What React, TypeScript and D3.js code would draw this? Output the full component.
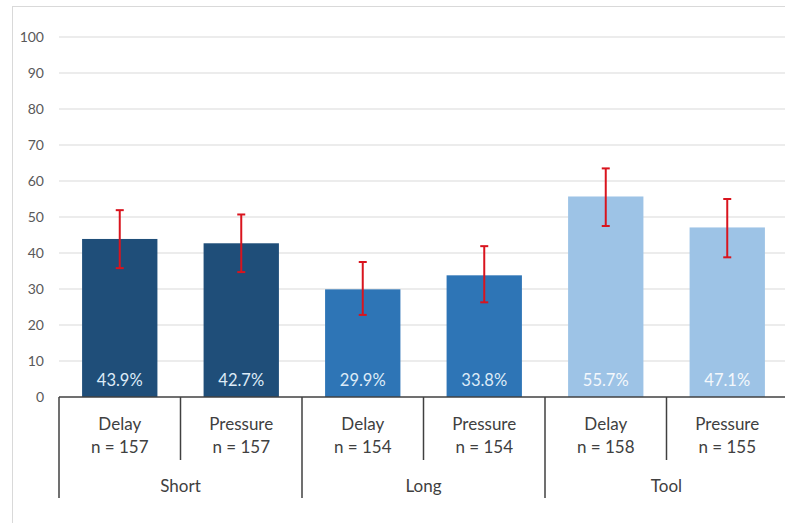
import React from "react";
import * as d3 from "d3";

const groups = ["Short", "Long", "Tool"];
const conditions = ["Delay", "Pressure", "Delay", "Pressure", "Delay", "Pressure"];
const sampleSizes = [157, 157, 154, 154, 158, 155];
const values = [43.9, 42.7, 29.9, 33.8, 55.7, 47.1];
const errLow = [35.8, 34.7, 22.8, 26.3, 47.5, 38.8];
const errHigh = [51.9, 50.7, 37.5, 41.9, 63.5, 55.0];
const barGroup = [0, 0, 1, 1, 2, 2];
const yTicks = [0, 10, 20, 30, 40, 50, 60, 70, 80, 90, 100];
const groupColors = ["#1F4E79", "#2E75B6", "#9DC3E6"];
const labelColors = ["#DDEBF7", "#DDEBF7", "#F4F8FC"];

export default function App() {
  const W = 785;
  const H = 523;
  const left = 59;
  const right = 788;
  const top = 37;
  const bottom = 397;
  const font = "Lato, 'Open Sans', sans-serif";

  const x = d3
    .scaleBand<number>()
    .domain(values.map((_, i) => i))
    .range([left, right])
    .paddingInner(0.38)
    .paddingOuter(0.19);
  const step = x.step();
  const slotStart = (i: number) => left + i * ((right - left) / values.length);
  const y = d3.scaleLinear().domain([0, 100]).range([bottom, top]);

  return (
    <svg
      width={W}
      height={H}
      style={{ position: "absolute", left: 0, top: 0, background: "#fff" }}
      fontFamily={font}
    >
      <rect x={12.5} y={6.5} width={W} height={H} fill="#fff" stroke="#D9D9D9" />
      {yTicks.map((t) => (
        <g key={t}>
          {t > 0 && (
            <line x1={left} x2={W} y1={y(t)} y2={y(t)} stroke="#D9D9D9" strokeWidth={1.2} />
          )}
          <text
            x={44}
            y={y(t) + 5}
            textAnchor="end"
            fontSize={14}
            fill="#595959"
          >
            {t}
          </text>
        </g>
      ))}
      {values.map((v, i) => {
        const bx = x(i)!;
        const bw = x.bandwidth();
        const cx = bx + bw / 2;
        return (
          <g key={i}>
            <rect x={bx} y={y(v)} width={bw} height={y(0) - y(v)} fill={groupColors[barGroup[i]]} />
            <text
              x={cx}
              y={386}
              textAnchor="middle"
              fontSize={16.5}
              fill={labelColors[barGroup[i]]}
            >
              {v.toFixed(1)}%
            </text>
            <line x1={cx} x2={cx} y1={y(errLow[i])} y2={y(errHigh[i])} stroke="#D9141E" strokeWidth={2} />
            <line x1={cx - 4} x2={cx + 4} y1={y(errLow[i])} y2={y(errLow[i])} stroke="#D9141E" strokeWidth={2} />
            <line x1={cx - 4} x2={cx + 4} y1={y(errHigh[i])} y2={y(errHigh[i])} stroke="#D9141E" strokeWidth={2} />
            <text x={cx} y={430} textAnchor="middle" fontSize={17} fill="#404040">
              {conditions[i]}
            </text>
            <text x={cx} y={453} textAnchor="middle" fontSize={17} fill="#404040">
              n = {sampleSizes[i]}
            </text>
          </g>
        );
      })}
      <line x1={left} x2={W} y1={bottom} y2={bottom} stroke="#404040" strokeWidth={1.5} />
      {d3.range(values.length + 1).map((i) => {
        const sx = slotStart(i);
        const isGroup = i % 2 === 0;
        return (
          <line
            key={"s" + i}
            x1={sx}
            x2={sx}
            y1={bottom}
            y2={isGroup ? 498 : 460}
            stroke="#404040"
            strokeWidth={1.5}
          />
        );
      })}
      {groups.map((g, gi) => {
        const cx = slotStart(gi * 2) + step;
        return (
          <text key={g} x={cx} y={492} textAnchor="middle" fontSize={17} fill="#404040">
            {g}
          </text>
        );
      })}
    </svg>
  );
}
